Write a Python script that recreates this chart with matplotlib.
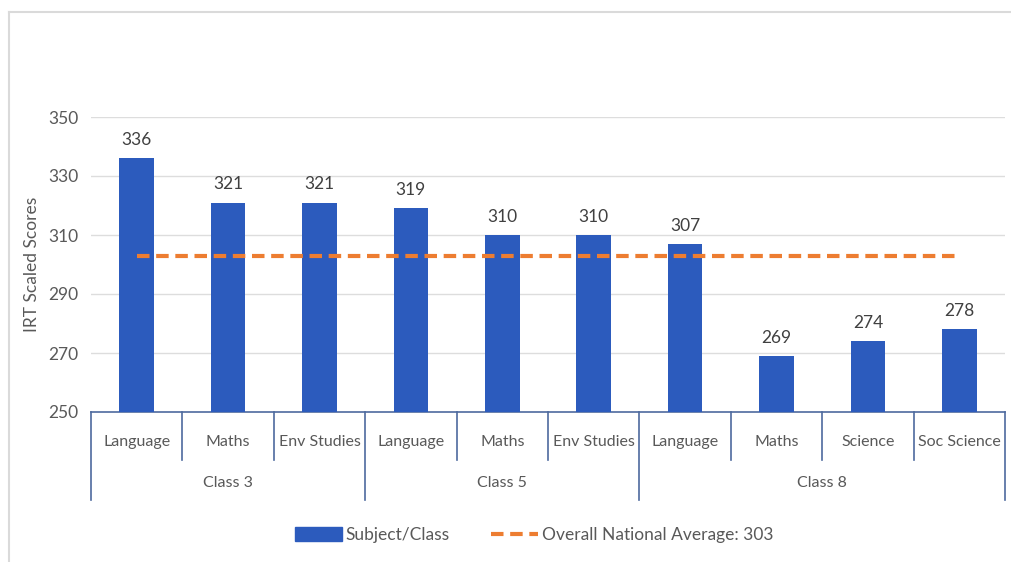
import matplotlib
matplotlib.use("Agg")
import matplotlib.pyplot as plt
from matplotlib.patches import Patch
from matplotlib.lines import Line2D

plt.rcParams['font.family'] = ['Lato', 'DejaVu Sans']

subjects = ["Language", "Maths", "Env Studies",
            "Language", "Maths", "Env Studies",
            "Language", "Maths", "Science", "Soc Science"]
classes = ["Class 3", "Class 5", "Class 8"]
class_sizes = [3, 3, 4]
scores = [336, 321, 321, 319, 310, 310, 307, 269, 274, 278]
national_average = 303
y_ticks = [250, 270, 290, 310, 330, 350]

bar_color = "#2C5BBD"
avg_color = "#ED7D31"
text_color = "#595959"
axis_color = "#4E6A9E"

fig = plt.figure(figsize=(10.12, 5.62), dpi=100)
ax = fig.add_axes([91 / 1012, 1 - 412 / 562, (1005 - 91) / 1012, (412 - 117) / 562])

x = list(range(len(scores)))
ax.bar(x, [s - y_ticks[0] for s in scores], bottom=y_ticks[0], width=0.38,
       color=bar_color, zorder=3)
for xi, s in zip(x, scores):
    ax.text(xi, s + 3.5, str(s), ha="center", va="bottom", fontsize=12.5, color="#404040")

ax.plot([x[0], x[-1]], [national_average] * 2, color=avg_color, lw=3,
        dashes=(3, 1.6), zorder=4)

ax.set_xlim(-0.5, len(scores) - 0.5)
ax.set_ylim(y_ticks[0], y_ticks[-1])
ax.set_yticks(y_ticks)
ax.set_yticklabels([str(t) for t in y_ticks], fontsize=12.5, color=text_color)
ax.tick_params(axis="y", length=0, pad=9)
ax.set_xticks([])
for t in y_ticks[1:]:
    ax.axhline(t, color="#DDDDDD", lw=1, zorder=1)
for side in ["top", "right", "left"]:
    ax.spines[side].set_visible(False)
ax.spines["bottom"].set_color(axis_color)
ax.spines["bottom"].set_linewidth(1.2)
ax.set_ylabel("IRT Scaled Scores", fontsize=12.5, color=text_color, labelpad=6)

# Two-level category axis
trans = ax.get_xaxis_transform()
sub_depth = -(460 - 412) / 295
cls_depth = -(500 - 412) / 295
boundaries = [0]
for n in class_sizes:
    boundaries.append(boundaries[-1] + n)
for b in range(len(scores) + 1):
    depth = cls_depth if b in boundaries else sub_depth
    ax.plot([b - 0.5, b - 0.5], [0, depth], transform=trans, color=axis_color,
            lw=1.2, clip_on=False)
for xi, name in zip(x, subjects):
    ax.text(xi, -(442 - 412) / 295, name, transform=trans, ha="center", va="center",
            fontsize=11.5, color=text_color)
for i, name in enumerate(classes):
    mid = (boundaries[i] + boundaries[i + 1]) / 2 - 0.5
    ax.text(mid, -(483 - 412) / 295, name, transform=trans, ha="center", va="center",
            fontsize=11.5, color=text_color)

handles = [Patch(color=bar_color, label="Subject/Class"),
           Line2D([], [], color=avg_color, lw=3, dashes=(3, 1.6),
                  label="Overall National Average: " + str(national_average))]
fig.legend(handles=handles, loc="center", bbox_to_anchor=(0.528, 1 - 535 / 562), ncol=2,
           frameon=False, fontsize=12.5, labelcolor=text_color, handlelength=2.7,
           handleheight=0.9, columnspacing=2.4, handletextpad=0.2)

# Light frame around the chart area
fig.add_artist(Line2D([9 / 1012, 1], [1 - 12 / 562] * 2, transform=fig.transFigure,
                      color="#DADADA", lw=1.5))
fig.add_artist(Line2D([9 / 1012] * 2, [0, 1 - 12 / 562], transform=fig.transFigure,
                      color="#DADADA", lw=1.5))

fig.savefig("out.png", dpi=100)
